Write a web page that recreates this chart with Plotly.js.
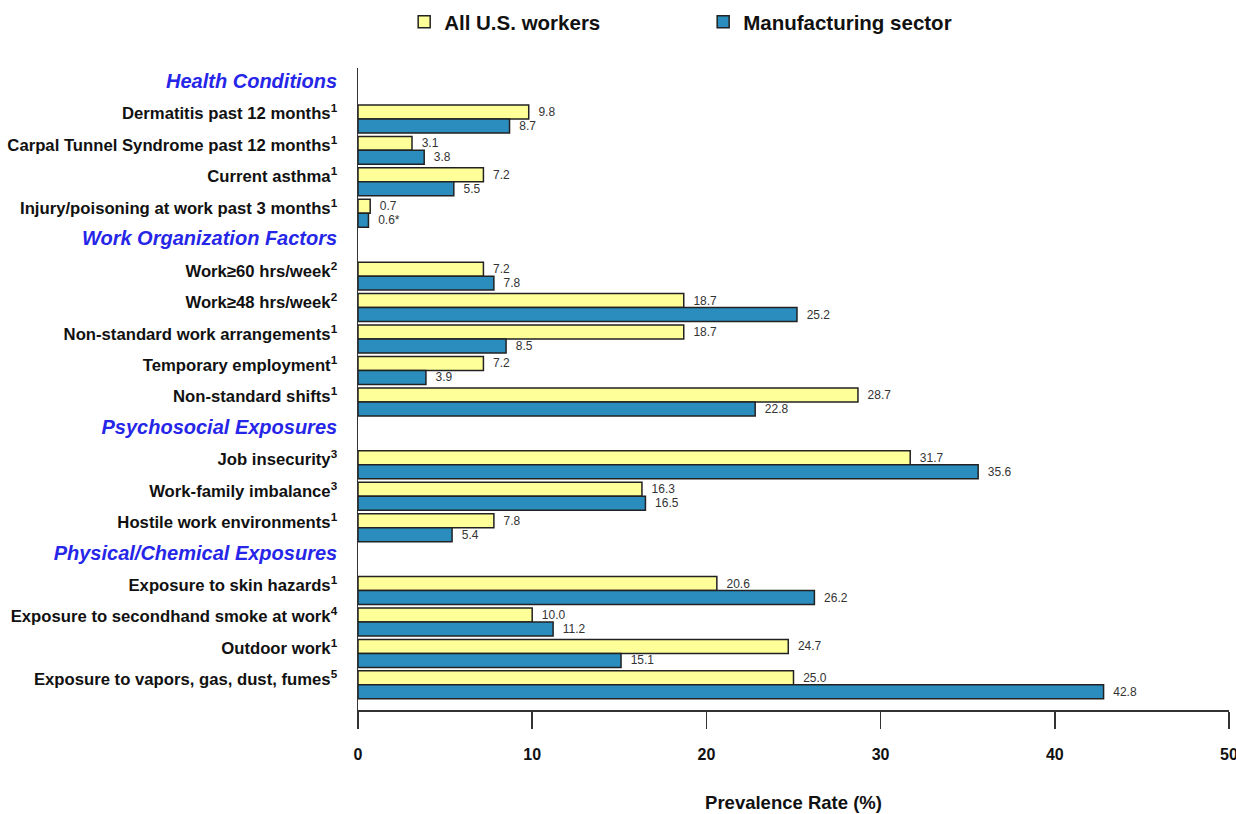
<!DOCTYPE html>
<html>
<head>
<meta charset="utf-8">
<script src="https://cdn.plot.ly/plotly-3.0.1.min.js"></script>
<style>html,body{margin:0;padding:0;background:#fff;}#chart{width:1236px;height:814px;}</style>
</head>
<body>
<div id="chart"></div>
<script>
// Section headers and their items (label, superscript note)
const headers = ['Health Conditions', 'Work Organization Factors', 'Psychosocial Exposures', 'Physical/Chemical Exposures'];
const items = [
  ['Dermatitis past 12 months', 'Carpal Tunnel Syndrome past 12 months', 'Current asthma', 'Injury/poisoning at work past 3 months'],
  ['Work\u226560 hrs/week', 'Work\u226548 hrs/week', 'Non-standard work arrangements', 'Temporary employment', 'Non-standard shifts'],
  ['Job insecurity', 'Work-family imbalance', 'Hostile work environments'],
  ['Exposure to skin hazards', 'Exposure to secondhand smoke at work', 'Outdoor work', 'Exposure to vapors, gas, dust, fumes']
];
const notes = [
  ['1', '1', '1', '1'],
  ['2', '2', '1', '1', '1'],
  ['3', '3', '1'],
  ['1', '4', '1', '5']
];
const allWorkers = [9.8, 3.1, 7.2, 0.7, 7.2, 18.7, 18.7, 7.2, 28.7, 31.7, 16.3, 7.8, 20.6, 10.0, 24.7, 25.0];
const manufacturing = [8.7, 3.8, 5.5, 0.6, 7.8, 25.2, 8.5, 3.9, 22.8, 35.6, 16.5, 5.4, 26.2, 11.2, 15.1, 42.8];
const manufacturingFlags = ['', '', '', '*', '', '', '', '', '', '', '', '', '', '', '', ''];
const seriesNames = ['All U.S. workers', 'Manufacturing sector'];
const xTicks = [0, 10, 20, 30, 40, 50];

// Build rows
const tickText = [];
const rowPos = [];
const dataPos = [];
let r = 0;
headers.forEach((h, gi) => {
  tickText.push('<span style="color:#2626e8;font-size:20px"><i>' + h + '</i></span>');
  rowPos.push(r); r++;
  items[gi].forEach((it, ii) => {
    tickText.push(it + '<sup>' + notes[gi][ii] + '</sup>');
    rowPos.push(r); dataPos.push(r); r++;
  });
});
const labelShift = -0.17;
const tickVals = rowPos.map(p => p + labelShift);
const pad = '\u00a0\u00a0';

const traces = [
  {
    type: 'bar', orientation: 'h', name: seriesNames[0],
    x: allWorkers, y: dataPos,
    marker: {color: '#FFFF99', line: {color: '#222', width: 1.5}},
    text: allWorkers.map(v => pad + v.toFixed(1)),
    textposition: 'outside', cliponaxis: false,
    textfont: {family: 'Liberation Sans, Arial, sans-serif', size: 12, color: '#333'},
    hoverinfo: 'x+name'
  },
  {
    type: 'bar', orientation: 'h', name: seriesNames[1],
    x: manufacturing, y: dataPos,
    marker: {color: '#2B8CBE', line: {color: '#222', width: 1.5}},
    text: manufacturing.map((v, i) => pad + v.toFixed(1) + manufacturingFlags[i]),
    textposition: 'outside', cliponaxis: false,
    textfont: {family: 'Liberation Sans, Arial, sans-serif', size: 12, color: '#333'},
    hoverinfo: 'x+name'
  }
];

const layout = {
  width: 1236, height: 814,
  margin: {l: 358, r: 7, t: 68, b: 104},
  paper_bgcolor: '#fff', plot_bgcolor: '#fff',
  font: {family: 'Liberation Sans, Arial, sans-serif', color: '#111'},
  barmode: 'group', bargap: 0.11, bargroupgap: 0,
  showlegend: true,
  legend: {
    orientation: 'h', xref: 'container', yref: 'container',
    x: 0.327, xanchor: 'left', y: 0.973, yanchor: 'middle',
    entrywidth: 254, entrywidthmode: 'pixels',
    font: {size: 20.5, weight: 'bold', color: '#111'},
    traceorder: 'normal'
  },
  xaxis: {
    range: [0, 50], tickvals: xTicks, ticktext: xTicks.map(String),
    ticks: 'outside', ticklen: 17, tickwidth: 1.5, tickcolor: '#333',
    showline: true, linecolor: '#333', linewidth: 1.5,
    showgrid: false, zeroline: false, automargin: false,
    ticklabeloverflow: 'allow',
    tickfont: {size: 16, weight: 'bold', color: '#111'},
    ticklabelstandoff: 12,
    title: {text: 'Prevalence Rate (%)', font: {size: 18.5, weight: 'bold', color: '#111'}, standoff: 34}
  },
  yaxis: {
    range: [19.8, -0.62], tickvals: tickVals, ticktext: tickText,
    ticks: '', showline: true, linecolor: '#333', linewidth: 1.5,
    showgrid: false, zeroline: false, automargin: false,
    tickfont: {size: 16.7, weight: 'bold', color: '#111'},
    ticklabelstandoff: 16
  }
};

Plotly.newPlot('chart', traces, layout, {displayModeBar: false, staticPlot: true});
</script>
</body>
</html>
